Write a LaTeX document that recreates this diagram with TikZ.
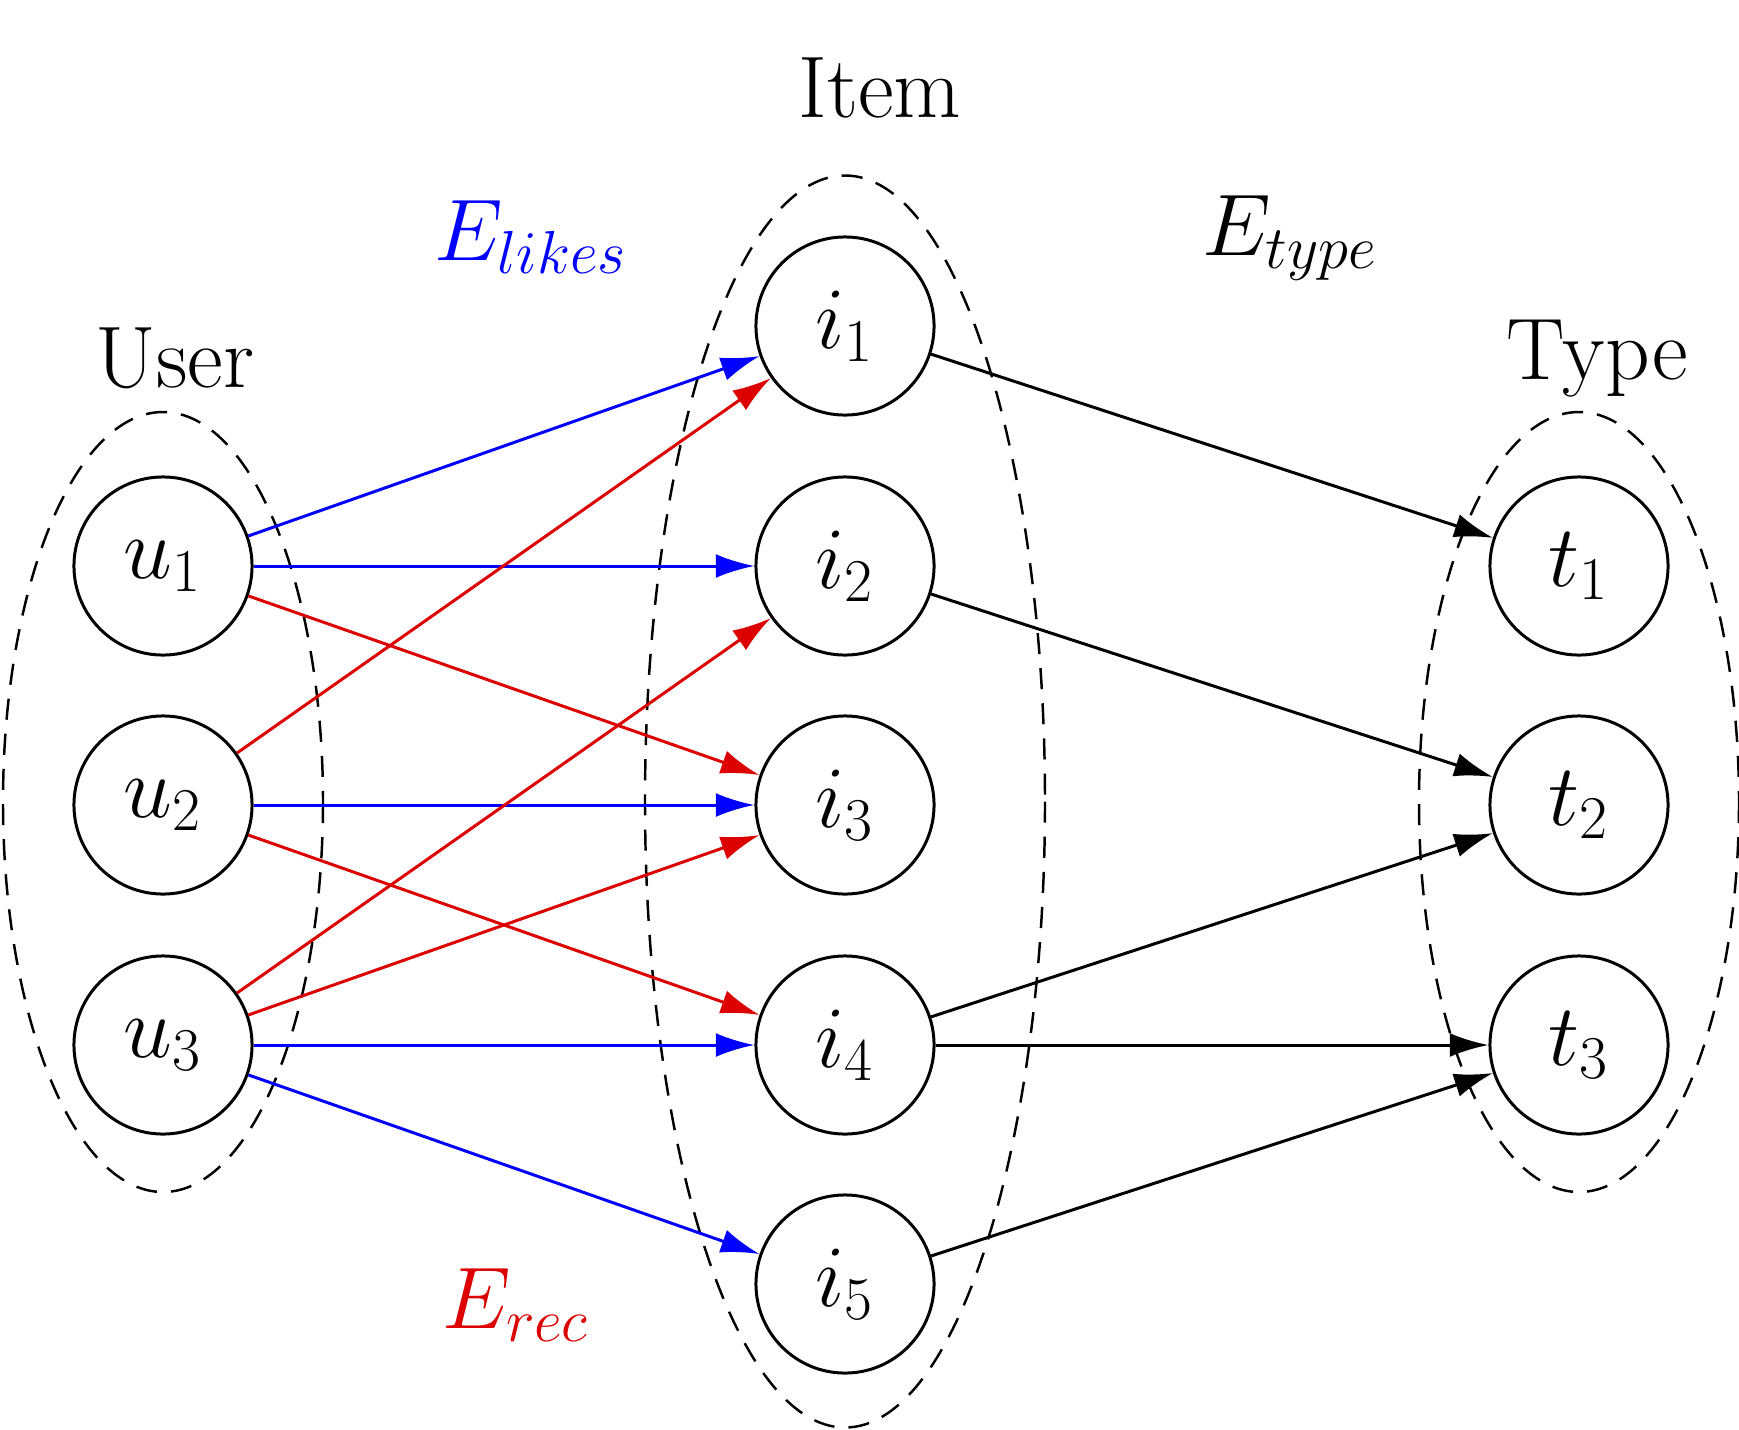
\documentclass[tikz,border=0pt]{standalone}
\usetikzlibrary{arrows.meta}
\DeclareMathSizes{24.88}{24.88}{17.28}{12}
\definecolor{myred}{RGB}{220,0,0}
\definecolor{myblue}{RGB}{0,0,255}
\begin{document}
\begin{tikzpicture}[x=0.01cm,y=-0.01cm,
  vert/.style={circle,draw,line width=0.85pt,inner sep=0pt,minimum size=1.78cm,font=\Huge},
  grp/.style={draw,line width=0.7pt,dash pattern=on 6pt off 4pt},
  lbl/.style={anchor=base,inner sep=0pt,font=\Huge},
  edge/.style={line width=0.85pt,-{Latex[length=11pt,width=6.8pt]}},
  likes/.style={edge,myblue},
  rec/.style={edge,myred},
  typ/.style={edge,black}]
\useasboundingbox (0,0) rectangle (1739,1430);
% group ellipses
\draw[grp] (163,802) ellipse [x radius=160,y radius=390];
\draw[grp] (845,801.5) ellipse [x radius=200,y radius=626];
\draw[grp] (1579,802) ellipse [x radius=160,y radius=390];
% nodes
\node[vert] (u1) at (163,566) {$u_1$};
\node[vert] (u2) at (163,805) {$u_2$};
\node[vert] (u3) at (163,1045) {$u_3$};
\node[vert] (i1) at (845,326) {$i_1$};
\node[vert] (i2) at (845,566) {$i_2$};
\node[vert] (i3) at (845,805) {$i_3$};
\node[vert] (i4) at (845,1045) {$i_4$};
\node[vert] (i5) at (845,1284) {$i_5$};
\node[vert] (t1) at (1579,566) {$t_1$};
\node[vert] (t2) at (1579,805) {$t_2$};
\node[vert] (t3) at (1579,1045) {$t_3$};
% labels
\node[lbl] (litem) at (880,117) {Item};
\node[lbl] (luser) at (175,387) {User};
\node[lbl] (ltype) at (1597,379) {Type};
\node[lbl,text=myblue] (llikes) at (531,260) {$E_{likes}$};
\node[lbl] (ltyp) at (1290,255) {$E_{type}$};
\node[lbl,text=myred] (lrec) at (516,1328) {$E_{rec}$};
% edges
\draw[likes] (u1) -- (i1);
\draw[likes] (u1) -- (i2);
\draw[likes] (u2) -- (i3);
\draw[likes] (u3) -- (i4);
\draw[likes] (u3) -- (i5);
\draw[rec] (u1) -- (i3);
\draw[rec] (u2) -- (i1);
\draw[rec] (u2) -- (i4);
\draw[rec] (u3) -- (i2);
\draw[rec] (u3) -- (i3);
\draw[typ] (i1) -- (t1);
\draw[typ] (i2) -- (t2);
\draw[typ] (i4) -- (t2);
\draw[typ] (i4) -- (t3);
\draw[typ] (i5) -- (t3);
\end{tikzpicture}
\end{document}
